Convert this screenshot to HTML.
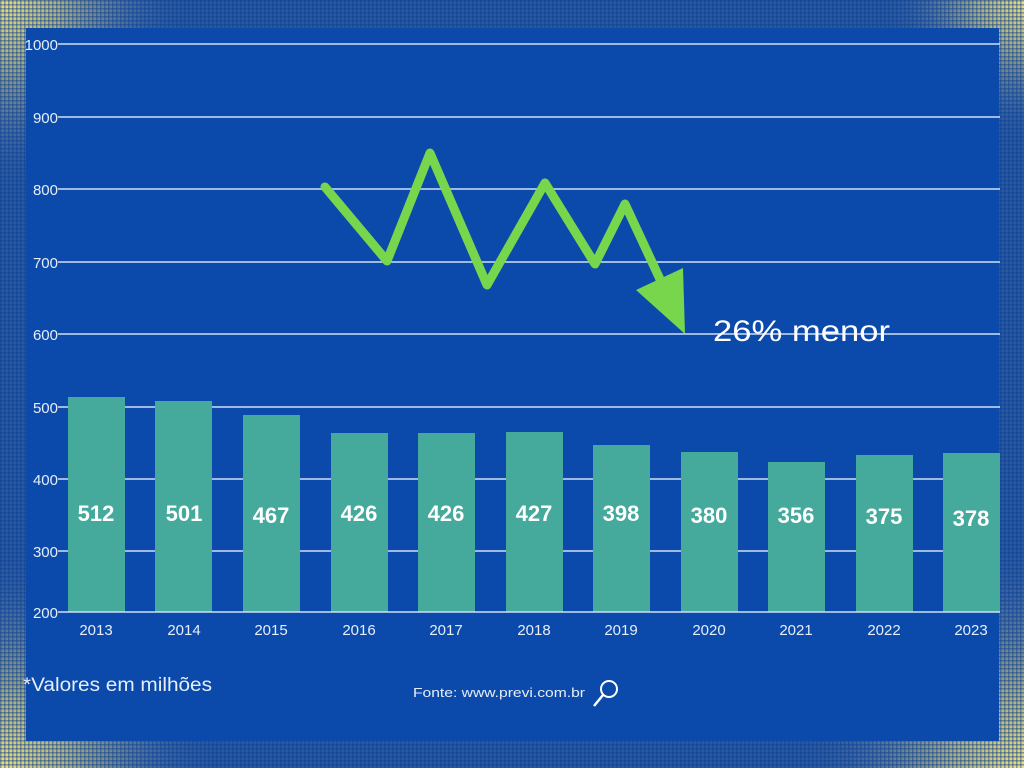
<!DOCTYPE html>
<html><head><meta charset="utf-8"><style>
html,body{margin:0;padding:0;width:1024px;height:768px;overflow:hidden;background:#0e47a6}
svg{display:block}
</style></head><body>
<svg width="1024" height="768" xmlns="http://www.w3.org/2000/svg" font-family="Liberation Sans, sans-serif">
<defs>
<radialGradient id="c1" cx="0.5" cy="0.5" r="0.5"><stop offset="0" stop-color="#efe07a"/><stop offset="0.3" stop-color="#a9b083"/><stop offset="0.7" stop-color="#4a6fa0" stop-opacity="0.6"/><stop offset="1" stop-color="#1b4f9e" stop-opacity="0"/></radialGradient>
<pattern id="dots" width="4" height="4" patternUnits="userSpaceOnUse"><rect x="0" y="0" width="4" height="1.5" fill="#0b3f95" opacity="0.45"/><rect x="0" y="0" width="1.5" height="4" fill="#0b3f95" opacity="0.45"/></pattern>
</defs>
<rect width="1024" height="768" fill="#2a5a9e"/>
<circle cx="0" cy="0" r="200" fill="url(#c1)"/>
<circle cx="1024" cy="0" r="150" fill="url(#c1)"/>
<circle cx="0" cy="768" r="230" fill="url(#c1)"/>
<circle cx="1024" cy="768" r="240" fill="url(#c1)"/>
<rect width="1024" height="768" fill="url(#dots)"/>
<rect x="26" y="28" width="973" height="713" fill="#0b4aab"/>
<g stroke="#cfe0f5" stroke-width="1.5">
<line x1="58" y1="44" x2="1000" y2="44"/><line x1="58" y1="117" x2="1000" y2="117"/>
<line x1="58" y1="189" x2="1000" y2="189"/><line x1="58" y1="262" x2="1000" y2="262"/>
<line x1="58" y1="334" x2="1000" y2="334"/><line x1="58" y1="407" x2="1000" y2="407"/>
<line x1="58" y1="479" x2="1000" y2="479"/><line x1="58" y1="551" x2="1000" y2="551"/>
</g>
<g fill="#45a99b">
<rect x="68" y="397" width="57" height="215"/><rect x="155" y="401" width="57" height="211"/>
<rect x="243" y="415" width="57" height="197"/><rect x="331" y="433" width="57" height="179"/>
<rect x="418" y="433" width="57" height="179"/><rect x="506" y="432" width="57" height="180"/>
<rect x="593" y="445" width="57" height="167"/><rect x="681" y="452" width="57" height="160"/>
<rect x="768" y="462" width="57" height="150"/><rect x="856" y="455" width="57" height="157"/>
<rect x="943" y="453" width="57" height="159"/>
</g>
<line x1="58" y1="612" x2="1000" y2="612" stroke="#cfe0f5" stroke-width="1.5"/>
<g fill="#e6eef8" font-size="15" text-anchor="end">
<text x="58" y="50">1000</text><text x="58" y="123">900</text><text x="58" y="195">800</text>
<text x="58" y="268">700</text><text x="58" y="340">600</text><text x="58" y="413">500</text>
<text x="58" y="485">400</text><text x="58" y="557">300</text><text x="58" y="618">200</text>
</g>
<g fill="#e6eef8" font-size="15" text-anchor="middle">
<text x="96" y="635">2013</text><text x="184" y="635">2014</text><text x="271" y="635">2015</text>
<text x="359" y="635">2016</text><text x="446" y="635">2017</text><text x="534" y="635">2018</text>
<text x="621" y="635">2019</text><text x="709" y="635">2020</text><text x="796" y="635">2021</text>
<text x="884" y="635">2022</text><text x="971" y="635">2023</text>
</g>
<g fill="#fff" font-size="22" font-weight="bold" text-anchor="middle">
<text x="96" y="521">512</text><text x="184" y="521">501</text><text x="271" y="523">467</text>
<text x="359" y="521">426</text><text x="446" y="521">426</text><text x="534" y="521">427</text>
<text x="621" y="521">398</text><text x="709" y="523">380</text><text x="796" y="523">356</text>
<text x="884" y="524">375</text><text x="971" y="526">378</text>
</g>
<polyline points="325,187 387,261 430,153 487,285 545,183 595,264 625,204 665,290" fill="none" stroke="#77d64c" stroke-width="9" stroke-linejoin="round" stroke-linecap="round"/>
<polygon points="636,290 683,268 685,334" fill="#77d64c"/>
<text x="713" y="341" fill="#fff" font-size="30" textLength="177" lengthAdjust="spacingAndGlyphs">26% menor</text>
<text x="23" y="691" fill="#e6eef8" font-size="19" textLength="189" lengthAdjust="spacingAndGlyphs">*Valores em milhões</text>
<text x="413" y="697" fill="#e6eef8" font-size="13" textLength="172" lengthAdjust="spacingAndGlyphs">Fonte: www.previ.com.br</text>
<circle cx="609" cy="689" r="8" fill="none" stroke="#fff" stroke-width="2"/>
<line x1="603" y1="695" x2="594" y2="706" stroke="#fff" stroke-width="2.5"/>
</svg>
</body></html>
